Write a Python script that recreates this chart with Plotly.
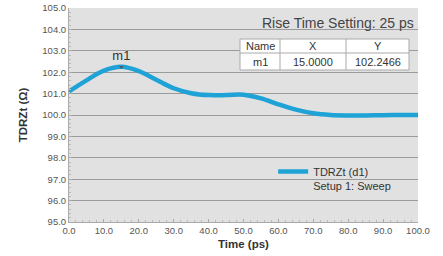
import plotly.graph_objects as go

time_ps = [0, 5, 10, 15, 20, 25, 30, 35, 40, 45, 50, 55, 60, 65, 70, 75, 80, 85, 90, 95, 100]
tdrzt = [101.1, 101.62, 102.07, 102.25, 102.05, 101.65, 101.25, 101.02, 100.93, 100.93, 100.95,
         100.78, 100.5, 100.25, 100.08, 100.0, 99.98, 99.98, 99.99, 100.0, 100.0]
marker_name = "m1"
marker_x = 15.0
marker_y = 102.2466
x_ticks = [0, 10, 20, 30, 40, 50, 60, 70, 80, 90, 100]
y_ticks = [95, 96, 97, 98, 99, 100, 101, 102, 103, 104, 105]

font = "Liberation Sans, Arial, sans-serif"
fig = go.Figure()
fig.add_trace(go.Scatter(
    x=time_ps, y=tdrzt, mode="lines", line=dict(color="#1fa3d6", width=4.5, shape="spline"),
    name="TDRZt (d1)<br>Setup 1: Sweep"))
fig.add_trace(go.Scatter(
    x=[marker_x], y=[marker_y], mode="markers+text", marker=dict(symbol="triangle-down", size=4, color="#555"),
    text=[marker_name], textposition="top center", textfont=dict(size=13, color="#333", family=font),
    showlegend=False))

fig.update_layout(
    width=443, height=256, margin=dict(l=69, r=25, t=8, b=34, autoexpand=False),
    paper_bgcolor="white", plot_bgcolor="#e1e1e1",
    font=dict(family=font, size=9.5, color="#555"),
    legend=dict(x=0.585, y=0.30, xanchor="left", yanchor="top", bgcolor="rgba(0,0,0,0)", valign="top",
                font=dict(size=11, color="#333"), itemwidth=30, tracegroupgap=0),
    xaxis=dict(range=[0, 100], tickvals=x_ticks, ticktext=[f"{v:.1f}" for v in x_ticks],
               showgrid=False, zeroline=False, showline=True, linecolor="#aaa", automargin=False,
               ticks="inside", ticklen=3, tickcolor="#aaa",
               minor=dict(ticks="inside", ticklen=2, tickcolor="#bbb", dtick=2),
               title=dict(text="<b>Time (ps)</b>", font=dict(size=11.5, color="#333"), standoff=4)),
    yaxis=dict(range=[95, 105], tickvals=y_ticks, ticktext=[f"{v:.1f}" for v in y_ticks],
               showgrid=True, gridcolor="#9a9a9a", gridwidth=1, zeroline=False,
               showline=True, linecolor="#aaa", automargin=False,
               ticks="inside", ticklen=3, tickcolor="#aaa",
               minor=dict(ticks="inside", ticklen=2, tickcolor="#bbb", dtick=0.2),
               title=dict(text="<b>TDRZt (Ω)</b>", font=dict(size=11.5, color="#333"), standoff=12)),
)

# Marker table
fig.add_annotation(xref="paper", yref="paper", x=0.995, y=0.93, xanchor="right", yanchor="middle",
                   text="Rise Time Setting: 25 ps", showarrow=False, font=dict(size=14, color="#444"))
cols = [(240, 280), (280, 346), (346, 409)]
rows = [(39, 53), (53, 70)]
def px(xp):
    return (xp - 69) / 349
def py(yp):
    return (222 - yp) / 214
fig.add_shape(type="rect", xref="paper", yref="paper", x0=px(240), x1=px(409), y0=py(70), y1=py(39),
              fillcolor="white", line=dict(color="#aaa", width=1), layer="above")
for c in cols[1:]:
    fig.add_shape(type="line", xref="paper", yref="paper", x0=px(c[0]), x1=px(c[0]), y0=py(70), y1=py(39),
                  line=dict(color="#aaa", width=1), layer="above")
fig.add_shape(type="line", xref="paper", yref="paper", x0=px(240), x1=px(409), y0=py(53), y1=py(53),
              line=dict(color="#aaa", width=1), layer="above")
cells = [["Name", "X", "Y"], [marker_name, f"{marker_x:.4f}", f"{marker_y:.4f}"]]
for r, row in enumerate(rows):
    for c, col in enumerate(cols):
        fig.add_annotation(xref="paper", yref="paper", x=px((col[0] + col[1]) / 2), y=py((row[0] + row[1]) / 2),
                           xanchor="center", yanchor="middle",
                           text=cells[r][c], showarrow=False, font=dict(size=11, color="#333"))

fig.write_html("out.html", config={"displayModeBar": False},
               post_script="document.body.style.margin='0';")
